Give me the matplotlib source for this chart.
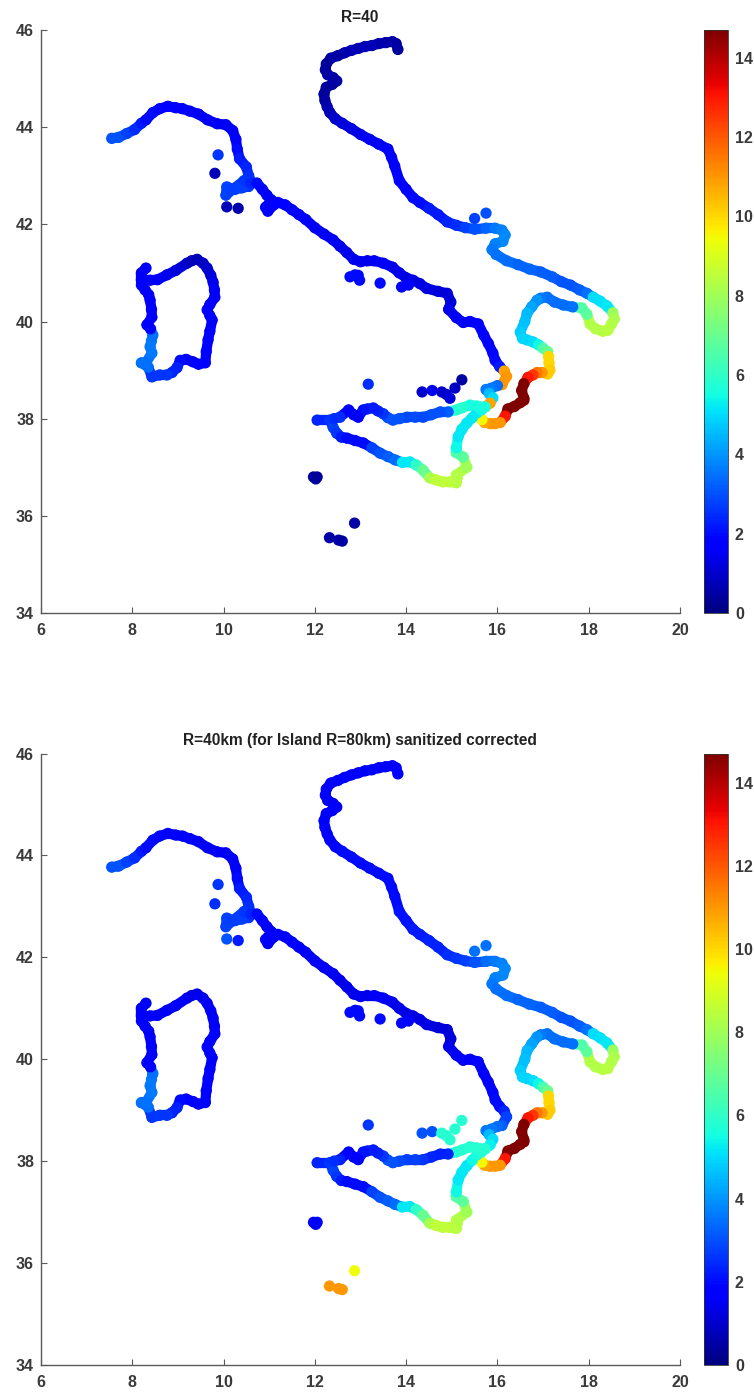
import numpy as np
import matplotlib
matplotlib.use('Agg')
import matplotlib.pyplot as plt
from matplotlib.collections import LineCollection

plt.rcParams['font.family'] = ['Liberation Sans', 'DejaVu Sans']

# adriatic side, Trieste down to the Ionian and round to Sicily's toe
adr_lon = [13.82,13.78,13.7,13.55,13.4,13.25,13.1,12.95,12.8,12.65,12.5,12.35,12.25,12.23,12.28,12.4,12.48,12.38,12.25,12.2,12.22,12.27,12.33,12.45,12.6,12.8,13.0,13.2,13.4,13.6,13.68,13.75,13.85,14.0,14.15,14.3,14.5,14.7,14.9,15.1,15.3,15.5,15.75,15.95,16.1,16.17,16.12,15.95,15.88,15.97,16.2,16.45,16.7,16.95,17.2,17.4,17.6,17.8,17.96,18.1,18.25,18.4,18.53,18.56,18.5,18.42,18.31,18.15,18.03,17.96,17.85,17.65,17.44,17.25,17.09,16.95,16.87,16.75,16.65,16.6,16.5,16.55,16.65,16.78,16.9,17.0,17.1,17.12,17.13,17.15,17.1,16.98,16.87,16.78,16.67,16.58,16.53,16.58,16.58,16.5,16.37,16.23,16.17,16.06,15.95,15.84,15.72,15.66]
adr_lat = [45.6,45.72,45.76,45.74,45.72,45.68,45.66,45.62,45.58,45.53,45.47,45.42,45.3,45.18,45.08,45.02,44.95,44.88,44.82,44.68,44.55,44.42,44.3,44.17,44.08,43.97,43.85,43.75,43.65,43.55,43.38,43.2,42.9,42.72,42.55,42.45,42.33,42.2,42.05,41.98,41.93,41.9,41.92,41.92,41.88,41.78,41.65,41.6,41.48,41.38,41.25,41.17,41.08,41.02,40.92,40.82,40.75,40.65,40.58,40.5,40.42,40.32,40.18,40.05,39.95,39.82,39.8,39.85,39.95,40.15,40.28,40.3,40.34,40.4,40.5,40.48,40.44,40.3,40.17,40.0,39.78,39.65,39.62,39.58,39.52,39.45,39.38,39.28,39.15,39.0,38.92,38.95,38.95,38.9,38.85,38.72,38.58,38.42,38.38,38.33,38.25,38.2,38.05,37.92,37.9,37.9,37.92,37.98]
adr_top = [.4,.5,.5,.6,.6,.7,.7,.7,.7,.6,.5,.5,.4,.4,.5,.5,.5,.5,.4,.4,.5,.6,.8,1,1.2,1.3,1.4,1.5,1.6,1.7,1.7,1.8,1.8,1.8,2,2,2.2,2.2,2.4,2.5,2.8,3,3.3,3.6,3.7,3.8,3.8,3.7,3.6,3.5,3.4,3.3,3.3,3.2,3.2,3.1,3.1,3.2,3.5,5,5.1,5.2,7.9,8.2,8.3,8.4,8.4,8.3,8.3,6.8,6.6,3.5,3.4,3.4,3.5,3.6,4,4.2,4.5,4.6,4.8,4.9,4.9,5,5.4,6.5,7,10,10,10.2,10.2,11,11.5,12.5,13,14.7,14.7,14.7,14.7,14.7,14.7,14.7,13,11,11,11,10.8,9.5]
adr_bot = [1.7,1.7,1.7,1.7,1.7,1.8,1.8,1.8,1.8,1.8,1.8,1.8,1.8,1.8,1.8,1.8,1.8,1.8,1.8,1.8,1.8,1.8,1.8,1.9,2,2,2,2,2,2,2,2,2.1,2.1,2.2,2.2,2.3,2.3,2.5,2.6,2.8,3,3.4,3.6,3.7,3.8,3.8,3.7,3.6,3.5,3.4,3.3,3.3,3.2,3.2,3.1,3.1,3.2,3.5,5,5.1,5.2,7.9,8.2,8.3,8.4,8.4,8.3,8.3,6.8,6.6,3.5,3.4,3.4,3.5,3.6,4,4.2,4.5,4.6,4.8,4.9,4.9,5,5.4,6.5,7,10,10,10.2,10.2,11,11.5,12.5,13,14.7,14.7,14.7,14.7,14.7,14.7,14.7,13,11,11,11,10.8,9.5]

# tyrrhenian side, Ventimiglia down to Reggio
tyr_lon = [7.55,7.7,7.88,8.05,8.2,8.3,8.45,8.6,8.78,8.95,9.1,9.26,9.45,9.65,9.86,10.05,10.2,10.27,10.3,10.35,10.5,10.55,10.6,10.55,10.4,10.25,10.07,10.05,10.2,10.45,10.6,10.73,10.85,10.95,11.05,10.92,10.97,11.1,11.19,11.35,11.5,11.65,11.8,12.0,12.2,12.4,12.55,12.7,12.85,13.0,13.15,13.3,13.5,13.7,13.85,14.0,14.15,14.3,14.45,14.7,14.9,14.98,14.93,15.1,15.25,15.4,15.58,15.7,15.8,15.9,15.95,16.05,16.15,16.2,16.1,16.0,15.87,15.75,15.82,15.9,15.84,15.73]
tyr_lat = [43.77,43.79,43.87,43.95,44.08,44.15,44.3,44.38,44.43,44.4,44.38,44.33,44.27,44.15,44.07,44.05,43.93,43.75,43.55,43.35,43.18,43.0,42.87,42.78,42.75,42.72,42.77,42.6,42.72,42.9,42.85,42.85,42.72,42.6,42.5,42.35,42.27,42.4,42.45,42.4,42.3,42.2,42.1,41.93,41.8,41.68,41.55,41.42,41.28,41.23,41.25,41.25,41.2,41.12,41.0,40.9,40.85,40.78,40.68,40.62,40.58,40.4,40.25,40.08,39.98,40.0,39.95,39.72,39.55,39.35,39.2,39.07,38.98,38.87,38.7,38.68,38.63,38.6,38.52,38.43,38.32,38.24]
tyr_top = [3,3,2.8,2.5,2.2,2,2,1.9,1.8,1.8,1.7,1.7,1.6,1.5,1.5,1.5,1.6,1.8,2,2.2,2.4,2.5,2.6,2.6,2.7,2.8,2.8,2.8,2.7,2.6,2.4,2,1.8,1.6,1.6,1.6,1.6,1.6,1.7,1.8,1.8,1.7,1.6,1.5,1.5,1.5,1.4,1.4,1.4,1.4,1.4,1.5,1.5,1.4,1.4,1.3,1.3,1.3,1.3,1.2,1.2,1.2,1.4,1.5,1.6,1.6,1.7,1.8,1.8,1.9,2,2.2,10.8,11,11,3.4,3.6,3.6,4.5,5,10.8,10.8]
tyr_bot = [3,3,2.8,2.5,2.2,2,2,1.9,1.8,1.8,1.7,1.7,1.6,1.5,1.5,1.5,1.6,1.8,2,2.2,2.4,2.5,2.6,2.6,2.7,2.8,2.8,2.8,2.7,2.6,2.4,2,1.8,1.6,1.6,1.6,1.6,1.6,1.7,1.8,1.8,1.7,1.6,1.5,1.5,1.5,1.4,1.4,1.4,1.4,1.4,1.5,1.5,1.4,1.4,1.3,1.3,1.3,1.3,1.2,1.2,1.2,1.4,1.5,1.6,1.6,1.7,1.8,1.8,1.9,2,2,2.4,2.8,3.2,3.4,3.6,3.6,4.5,5,5.3,5.6]

# sicily
sic_lon = [12.05,12.33,12.4,12.48,12.58,12.7,12.88,13.06,13.25,13.43,13.6,13.76,13.92,14.08,14.22,14.37,14.52,14.65,14.8,14.95,15.1,15.12,15.1,15.33,15.25,15.1,15.1,15.14,15.22,15.33,15.45,15.55,15.65,15.73,15.55,15.4,15.22,15.1,14.92,14.75,14.55,14.37,14.2,14.02,13.85,13.71,13.6,13.5,13.38,13.28,13.15,13.06,12.95,12.85,12.74,12.55,12.42]
sic_lat = [37.97,37.97,37.82,37.7,37.62,37.6,37.55,37.5,37.4,37.29,37.22,37.15,37.1,37.11,37.05,36.94,36.78,36.74,36.7,36.7,36.68,36.78,36.84,37.0,37.21,37.3,37.4,37.63,37.78,37.91,38.02,38.12,38.18,38.24,38.26,38.28,38.22,38.18,38.14,38.14,38.08,38.03,38.03,38.03,38.0,37.97,38.02,38.1,38.16,38.22,38.2,38.18,38.03,38.08,38.18,38.03,38.0]
sic_top = [2.4,2.6,2.8,2.6,2.2,2,2,2,2.8,3,3.2,3.4,5.2,5.2,6,7,8.2,8.5,8.5,8.5,8.4,8.4,8.3,8,6.8,6.6,5.4,5.2,5.2,5.2,5.2,5.2,5.4,5.6,5.6,5.6,5.8,5.8,3.2,3,3,2.9,2.9,2.9,3,3,3,2.6,2.3,2.2,2.2,2.1,1.8,1.8,1.8,2.5,2.5]
sic_bot = [2.4,2.6,2.8,2.6,2.2,2,2,2,2.8,3,3.2,3.4,5.2,5.2,6,7,8.2,8.5,8.5,8.5,8.4,8.4,8.3,8,6.8,6.6,5.4,5.2,5.2,5.2,5.4,5.6,5.7,5.8,5.8,5.8,5.8,5.8,2.4,2.3,2.4,2.6,2.8,2.8,2.9,3,3,2.6,2.3,2.2,2.2,2.1,1.8,1.8,1.8,2.3,2.5]

# sardinia
sar_lon = [8.3,8.2,8.2,8.39,8.55,8.76,8.95,9.2,9.3,9.42,9.55,9.64,9.72,9.77,9.8,9.81,9.7,9.64,9.7,9.75,9.7,9.66,9.62,9.6,9.45,9.33,9.18,9.05,8.98,8.87,8.76,8.6,8.43,8.35,8.2,8.3,8.43,8.39,8.42,8.45,8.4,8.32,8.43,8.42,8.39,8.36,8.28,8.2]
sar_lat = [41.1,41.0,40.85,40.85,40.86,40.96,41.05,41.2,41.25,41.28,41.2,41.1,40.95,40.81,40.65,40.5,40.35,40.24,40.12,40.03,39.8,39.62,39.38,39.15,39.12,39.17,39.22,39.2,39.05,38.95,38.9,38.9,38.86,39.06,39.15,39.15,39.35,39.48,39.6,39.72,39.85,39.93,40.09,40.25,40.44,40.55,40.65,40.75]
sar_top = [1.5,1.5,1.5,1.6,1.6,1.4,1.2,1,.8,.8,.9,1,1.2,1.4,1.5,1.6,1.7,1.7,1.7,1.7,1.7,1.7,1.7,1.7,1.7,1.8,1.9,2,2.3,2.4,2.6,2.6,2.6,3.4,3.5,3.5,3.6,3.6,3.6,3.5,1.8,1.7,1.7,1.7,1.7,1.6,1.6,1.6]
sar_bot = [1.5,1.5,1.5,1.6,1.6,1.6,1.6,1.5,1.4,1.4,1.4,1.5,1.6,1.6,1.6,1.7,1.7,1.7,1.7,1.7,1.7,1.7,1.7,1.7,1.7,1.8,1.9,2,2.3,2.4,2.6,2.6,2.6,3.4,3.5,3.5,3.6,3.6,3.6,3.5,1.8,1.7,1.7,1.7,1.7,1.6,1.6,1.6]

# small islands
isl_lon = [9.88,9.81,10.07,10.32,12.77,12.88,12.95,12.98,13.43,15.5,15.75,13.17,14.35,14.57,14.78,14.88,14.96,15.07,15.22,11.97,12.02,12.05,12.87,12.32,12.52,12.6,13.9,14.05]
isl_lat = [43.43,43.05,42.36,42.33,40.92,40.96,40.95,40.85,40.79,42.12,42.23,38.71,38.55,38.58,38.55,38.5,38.42,38.63,38.8,36.8,36.76,36.8,35.85,35.55,35.5,35.48,40.71,40.75]
isl_top = [2.6,.7,.8,.6,2,2,2,2,2,2.8,3,2.5,1,1.5,1,1,1.2,.9,.5,.4,.4,.4,.5,.5,.5,.5,1.7,1.7]
isl_bot = [2.6,2.5,3,2.2,2,2,2,2,2,3.5,3.5,2.6,3,3,5.8,5.8,5.8,5.8,5.8,1.8,1.8,1.8,9.4,11,11,11,1.7,1.7]

titles = ['R=40', 'R=40km (for Island R=80km) sanitized corrected']
xticks = [6,8,10,12,14,16,18,20]
yticks = [34,36,38,40,42,44,46]
cticks = [0,2,4,6,8,10,12,14]
cmax = 14.7

W, H = 754.0, 1392.0
tick_col = '#3a3a3a'
line_col = '#5a5a5a'

panels = [
    (30, 613, [adr_top, tyr_top, sic_top, sar_top, isl_top]),
    (753.5, 1365, [adr_bot, tyr_bot, sic_bot, sar_bot, isl_bot]),
]

fig = plt.figure(figsize=(W/100, H/100), dpi=100)
lons = [adr_lon, tyr_lon, sic_lon, sar_lon, isl_lon]
lats = [adr_lat, tyr_lat, sic_lat, sar_lat, isl_lat]

for k, (ytop, ybot, vals) in enumerate(panels):
    ax = fig.add_axes([41/W, 1-ybot/H, (680-41)/W, (ybot-ytop)/H])
    for j in range(5):
        x = np.array(lons[j])
        y = np.array(lats[j])
        v = np.array(vals[j])
        if j < 4:
            pts = np.column_stack([x, y])
            segs = np.stack([pts[:-1], pts[1:]], axis=1)
            lc = LineCollection(segs, array=v[:-1], cmap='jet', linewidths=7.4, capstyle='round')
            lc.set_clim(0, cmax)
            ax.add_collection(lc)
        sc = ax.scatter(x, y, c=v, s=66, cmap='jet', vmin=0, vmax=cmax, linewidths=0, zorder=3)
    ax.set_xlim(6, 20)
    ax.set_ylim(34, 46)
    ax.set_xticks(xticks)
    ax.set_yticks(yticks)
    ax.spines['top'].set_visible(False)
    ax.spines['right'].set_visible(False)
    for s in ['left', 'bottom']:
        ax.spines[s].set_color(line_col)
        ax.spines[s].set_linewidth(1.0)
    ax.tick_params(direction='in', length=4, width=0.8, color=line_col, labelcolor=tick_col, labelsize=11.5, pad=5)
    ax.tick_params(axis='x', pad=7)
    for t in ax.get_xticklabels() + ax.get_yticklabels():
        t.set_fontweight('bold')
    fig.text(360/W, 1-(ytop-13)/H, titles[k], ha='center', va='center', fontsize=11.2, fontweight='bold', color='#222222')

    cax = fig.add_axes([704/W, 1-ybot/H, 24/W, (ybot-ytop)/H])
    cb = fig.colorbar(sc, cax=cax)
    cb.set_ticks(cticks)
    cb.ax.tick_params(length=0, labelcolor=tick_col, labelsize=11.5, pad=5)
    for t in cb.ax.get_yticklabels():
        t.set_fontweight('bold')
    cb.outline.set_edgecolor('#333333')
    cb.outline.set_linewidth(0.6)

fig.savefig('out.png', dpi=100)
